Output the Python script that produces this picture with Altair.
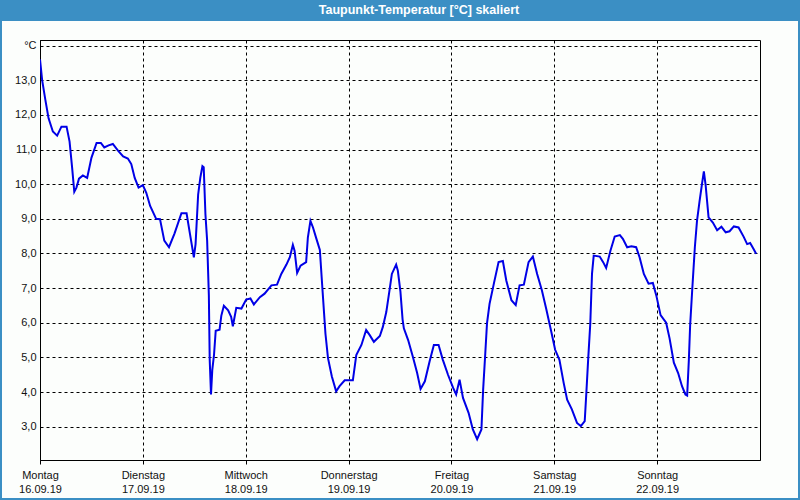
import altair as alt
import pandas as pd

hours = [0.0, 0.5, 1.25, 2.0, 3.0, 4.0, 5.0, 6.2, 6.9, 7.5, 8.0, 8.5, 9.1, 10.0, 11.0, 12.0,
         13.2, 14.2, 15.0, 16.0, 17.0, 18.2, 19.4, 20.5, 21.3, 22.1, 23.0, 24.0, 24.8, 25.7,
         27.1, 28.0, 29.0, 30.1, 31.4, 33.0, 34.2, 35.0, 35.9, 36.3, 36.9, 37.4, 37.9, 38.2,
         38.6, 39.0, 39.4, 39.6, 39.9, 40.2, 40.6, 41.0, 41.9, 42.3, 42.9, 43.9, 44.6, 45.0,
         45.8, 47.0, 48.1, 49.1, 49.9, 51.3, 52.4, 54.0, 55.3, 56.3, 57.5, 58.3, 59.0, 59.4,
         60.0, 60.8, 62.1, 62.5, 63.1, 63.7, 64.5, 65.3, 65.9, 66.6, 67.2, 68.1, 69.1, 69.9,
         71.1, 73.0, 73.8, 75.0, 76.1, 76.9, 77.9, 79.3, 80.0, 80.8, 81.6, 82.1, 83.1, 83.5,
         84.1, 84.6, 84.9, 85.9, 87.0, 88.0, 88.8, 89.8, 90.9, 91.9, 93.0, 94.0, 95.2, 96.4,
         97.1, 97.9, 98.7, 100.0, 101.0, 102.0, 103.0, 103.4, 103.9, 104.3, 104.9, 105.9,
         107.0, 108.0, 108.8, 110.0, 111.0, 111.9, 112.9, 114.0, 115.0, 116.0, 117.1, 118.1,
         119.3, 120.2, 121.2, 122.2, 123.0, 124.1, 125.3, 126.2, 127.1, 127.5, 127.9, 128.4,
         128.8, 129.2, 130.6, 131.4, 132.1, 133.1, 134.1, 135.3, 136.0, 137.0, 138.0, 139.1,
         139.9, 140.9, 142.0, 143.0, 143.8, 144.8, 146.1, 146.9, 147.9, 148.9, 149.8, 150.6,
         151.0, 151.4, 151.7, 152.2, 152.8, 153.3, 153.9, 154.5, 154.9, 155.3, 156.0, 157.0,
         158.0, 159.0, 160.0, 160.9, 161.9, 163.0, 164.2, 165.0, 165.7, 166.5, 167.1]
values = [13.6, 13.0, 12.43, 11.9, 11.52, 11.4, 11.66, 11.66, 11.23, 10.47, 9.78, 9.9, 10.16,
          10.25, 10.18, 10.76, 11.19, 11.19, 11.06, 11.12, 11.16, 10.97, 10.8, 10.74, 10.58,
          10.18, 9.9, 9.97, 9.75, 9.37, 9.0, 8.99, 8.37, 8.18, 8.58, 9.16, 9.16, 8.56, 7.89,
          8.27, 9.7, 10.18, 10.52, 10.49, 9.13, 8.37, 6.79, 4.93, 3.93, 4.64, 5.07, 5.77, 5.8,
          6.2, 6.49, 6.36, 6.17, 5.9, 6.43, 6.41, 6.67, 6.7, 6.53, 6.74, 6.84, 7.08, 7.1, 7.41,
          7.68, 7.89, 8.25, 8.08, 7.44, 7.65, 7.75, 8.46, 8.94, 8.75, 8.42, 8.1, 6.98, 5.69,
          4.98, 4.45, 4.02, 4.17, 4.34, 4.34, 5.07, 5.36, 5.79, 5.65, 5.45, 5.62, 5.88, 6.31,
          6.98, 7.41, 7.68, 7.5, 6.9, 6.1, 5.84, 5.5, 5.02, 4.55, 4.09, 4.31, 4.88, 5.36, 5.36,
          4.93, 4.5, 4.12, 3.93, 4.36, 3.83, 3.4, 2.92, 2.64, 2.92, 4.07, 5.12, 5.98, 6.55,
          7.13, 7.75, 7.78, 7.22, 6.65, 6.51, 7.08, 7.1, 7.75, 7.91, 7.41, 6.94, 6.41, 5.74,
          5.22, 4.93, 4.26, 3.78, 3.5, 3.11, 3.02, 3.16, 4.02, 4.93, 5.98, 7.41, 7.94, 7.91,
          7.75, 7.58, 8.08, 8.49, 8.53, 8.42, 8.18, 8.21, 8.18, 7.89, 7.41, 7.13, 7.15, 6.79,
          6.22, 6.0, 5.55, 4.85, 4.55, 4.17, 3.93, 3.9, 4.93, 5.93, 6.98, 8.18, 8.94, 9.51,
          10.04, 10.37, 9.99, 9.04, 8.89, 8.67, 8.77, 8.61, 8.64, 8.78, 8.75, 8.48, 8.27, 8.3,
          8.13, 7.99]

day_names = ["Montag", "Dienstag", "Mittwoch", "Donnerstag", "Freitag", "Samstag", "Sonntag"]
day_dates = ["16.09.19", "17.09.19", "18.09.19", "19.09.19", "20.09.19", "21.09.19", "22.09.19"]
day_hours = [0, 24, 48, 72, 96, 120, 144]
y_ticks = [3, 4, 5, 6, 7, 8, 9, 10, 11, 12, 13, 14]
title_text = "Taupunkt-Temperatur [°C] skaliert"

df = pd.DataFrame({"h": hours, "v": values})
one = pd.DataFrame({"a": [0]})

FONT = "Liberation Sans"
BLUE = "#3b8fc4"

label_arr = "[" + ",".join("['%s','%s']" % (n, d) for n, d in zip(day_names, day_dates)) + "]"

line = alt.Chart(df).mark_line(color="#0000e6", strokeWidth=2, clip=True).encode(
    x=alt.X("h:Q", scale=alt.Scale(domain=[0, 168], nice=False, zero=False),
            axis=alt.Axis(values=day_hours, title=None, grid=True, gridDash=[3, 3],
                          gridColor="#000000", gridOpacity=1, gridWidth=1,
                          domainColor="#000000", tickColor="#000000", tickSize=4,
                          labelExpr=label_arr + "[round(datum.value/24)]",
                          labelFont=FONT, labelFontSize=11, labelColor="#111111",
                          labelLineHeight=14, labelPadding=5, labelAlign="center",
                          labelBaseline="top", labelOverlap=False, labelFlush=False)),
    y=alt.Y("v:Q", scale=alt.Scale(domain=[2.04, 14.16], nice=False, zero=False),
            axis=alt.Axis(values=y_ticks, title=None, grid=True, gridDash=[3, 3],
                          gridColor="#000000", gridOpacity=1, gridWidth=1,
                          domainColor="#000000", ticks=False, labelPadding=4,
                          labelExpr="datum.value == 14 ? '°C' : replace(format(datum.value, '.1f'), '.', ',')",
                          labelFont=FONT, labelFontSize=11, labelColor="#111111",
                          labelOverlap=False, labelFlush=False)),
)

bar = alt.Chart(one).mark_rect(color=BLUE).encode(
    x=alt.value(-40), x2=alt.value(760), y=alt.value(-40), y2=alt.value(-19))
left_b = alt.Chart(one).mark_rect(color=BLUE).encode(
    x=alt.value(-40), x2=alt.value(-38), y=alt.value(-40), y2=alt.value(460 + 40))
right_b = alt.Chart(one).mark_rect(color=BLUE).encode(
    x=alt.value(758), x2=alt.value(760), y=alt.value(-40), y2=alt.value(460 + 40))
bottom_b = alt.Chart(one).mark_rect(color=BLUE).encode(
    x=alt.value(-40), x2=alt.value(760), y=alt.value(458), y2=alt.value(460))
title = alt.Chart(pd.DataFrame({"t": [title_text]})).mark_text(
    color="white", font=FONT, fontSize=12.5, fontWeight="bold", align="center", baseline="middle"
).encode(x=alt.value(379), y=alt.value(-30), text="t:N")

chart = alt.layer(line, bar, left_b, right_b, bottom_b, title).properties(
    width=720, height=420,
    autosize=alt.AutoSizeParams(type="none"),
    padding={"left": 40, "top": 40, "right": 40, "bottom": 40},
    background="#fcfefc",
).configure_view(stroke="#000000", strokeWidth=1)

chart.save("out.html", embed_options={"renderer": "svg", "actions": False})
